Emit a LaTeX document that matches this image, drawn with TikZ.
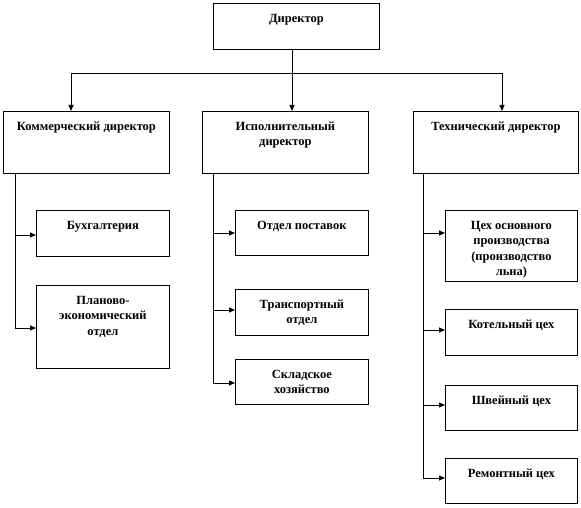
\documentclass[tikz,border=0pt]{standalone}
\usepackage{fontspec}
\setmainfont{Liberation Serif}
\usetikzlibrary{arrows.meta}
\newcommand{\bx}[3]{\parbox[t][#2][t]{#1}{\centering\fontsize{12.5}{15.5}\selectfont\bfseries\rule{0pt}{19pt}#3}}
\tikzset{
  box/.style={draw, line width=0.8pt, inner sep=0pt, anchor=north west},
  conn/.style={line width=0.8pt},
  arr/.style={line width=0.8pt, -{Triangle[length=6pt,width=5pt]}}
}
\begin{document}
\begin{tikzpicture}[x=1pt,y=-1pt]
\fill[white] (0,0) rectangle (581,508);
\useasboundingbox (0,0) rectangle (581,508);
% top
\node[box] (dir) at (213,3) {\bx{166pt}{46pt}{Директор}};
% level 2
\node[box] (kom) at (3,111) {\bx{166pt}{62pt}{Коммерческий директор}};
\node[box] (isp) at (202,111) {\bx{166pt}{62pt}{Исполнительный\\директор}};
\node[box] (teh) at (413,111) {\bx{165pt}{62pt}{Технический директор}};
% commercial children
\node[box] (buh) at (36,210) {\bx{133pt}{46pt}{Бухгалтерия}};
\node[box] (plan) at (36,285) {\bx{133pt}{83pt}{Планово-\\экономический\\отдел}};
% executive children
\node[box] (post) at (235,210) {\bx{133pt}{45pt}{Отдел поставок}};
\node[box] (tran) at (235,289) {\bx{133pt}{46pt}{Транспортный\\отдел}};
\node[box] (skl) at (235,359) {\bx{133pt}{45pt}{Складское\\хозяйство}};
% technical children
\node[box] (ceh) at (445,210) {\bx{132pt}{71pt}{Цех основного\\производства\\(производство\\льна)}};
\node[box] (kot) at (445,309) {\bx{132pt}{46pt}{Котельный цех}};
\node[box] (shv) at (445,385) {\bx{132pt}{45pt}{Швейный цех}};
\node[box] (rem) at (445,458) {\bx{132pt}{45pt}{Ремонтный цех}};
% top connectors
\coordinate (bus) at (292,73);
\coordinate (busL) at (71,73);
\coordinate (busR) at (502,73);
\draw[conn] (dir.south -| bus) -- (bus);
\draw[conn] (busL) -- (busR);
\draw[arr] (busL) -- (busL |- kom.north);
\draw[arr] (bus) -- (bus |- isp.north);
\draw[arr] (busR) -- (busR |- teh.north);
% commercial spine
\coordinate (k0) at (15,173);
\coordinate (k1) at (15,235);
\coordinate (k2) at (15,328);
\draw[conn] (k0) -- (k2);
\draw[arr] (k1) -- (k1 -| buh.west);
\draw[arr] (k2) -- (k2 -| plan.west);
% executive spine
\coordinate (e0) at (213,173);
\coordinate (e1) at (213,233);
\coordinate (e2) at (213,310);
\coordinate (e3) at (213,383);
\draw[conn] (e0) -- (e3);
\draw[arr] (e1) -- (e1 -| post.west);
\draw[arr] (e2) -- (e2 -| tran.west);
\draw[arr] (e3) -- (e3 -| skl.west);
% technical spine
\coordinate (t0) at (423,173);
\coordinate (t1) at (423,233);
\coordinate (t2) at (423,330);
\coordinate (t3) at (423,405);
\coordinate (t4) at (423,478);
\draw[conn] (t0) -- (t4);
\draw[arr] (t1) -- (t1 -| ceh.west);
\draw[arr] (t2) -- (t2 -| kot.west);
\draw[arr] (t3) -- (t3 -| shv.west);
\draw[arr] (t4) -- (t4 -| rem.west);
\end{tikzpicture}
\end{document}
